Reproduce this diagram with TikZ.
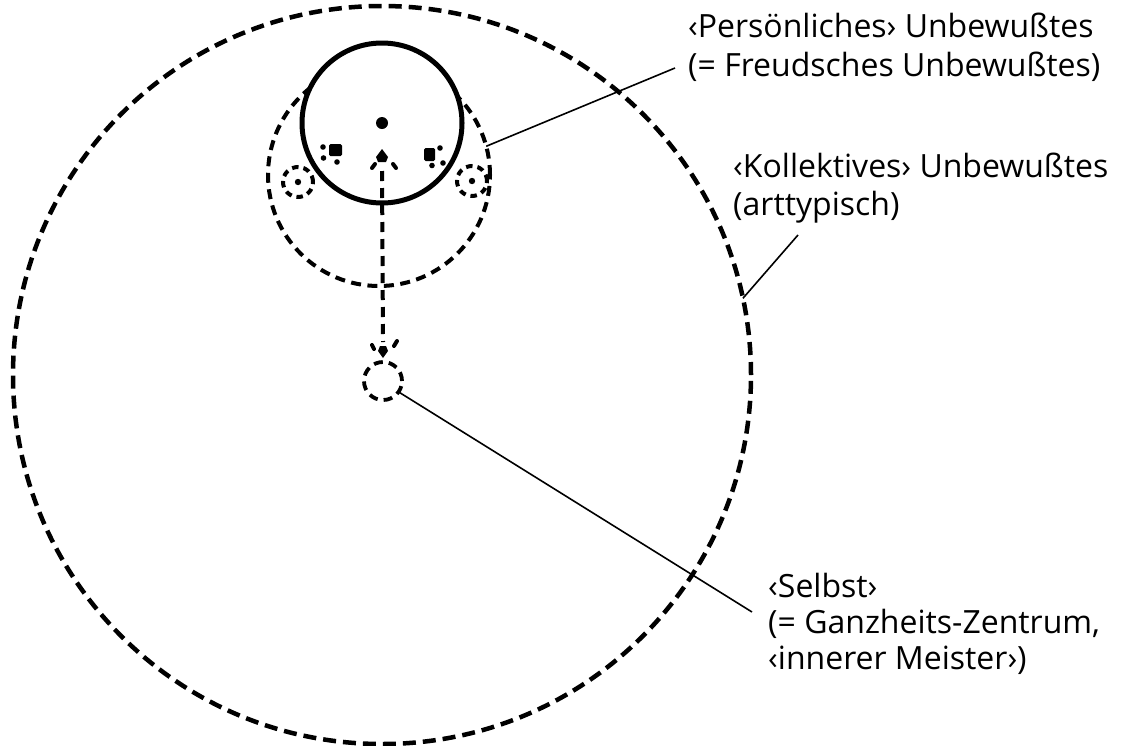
\documentclass[tikz,border=0pt]{standalone}
\usepackage{fontspec}
\setmainfont{Open Sans}
\begin{document}
\begin{tikzpicture}[x=1pt,y=-1pt,
  bigdash/.style={line width=4.5pt, dash pattern=on 13pt off 7pt},
  middash/.style={line width=4pt, dash pattern=on 10pt off 6.5pt},
  smalldash/.style={line width=4pt, dash pattern=on 6.5pt off 5pt},
  selbstdash/.style={line width=3.8pt, dash pattern=on 9pt off 6pt},
  shaftdash/.style={line width=4pt, dash pattern=on 10pt off 7pt},
  leader/.style={line width=1.6pt},
  barb/.style={line width=4pt, line cap=round},
  lbl/.style={anchor=base west, align=left, inner sep=0pt, font=\fontsize{32}{38}\selectfont},
  ring/.style={circle, inner sep=0pt, outer sep=0pt}]
\useasboundingbox (0,0) rectangle (1124,745);
% circles
\node[ring, draw, bigdash, minimum size=738pt] (gross) at (382,375) {};
\node[ring, draw, middash, minimum size=222pt] (koll) at (379,175) {};
\node[ring, draw, fill=white, line width=5pt, minimum size=160pt] (pers) at (382,123) {};
\node[ring, draw, selbstdash, minimum size=38pt] (selbst) at (383,381) {};
\node[ring, draw, smalldash, minimum size=30pt] (archL) at (298,182) {};
\node[ring, draw, smalldash, minimum size=30pt] (archR) at (472,181) {};
\fill (archL) circle (3.2pt);
\fill (archR) circle (3.2pt);
% centre dot of personal circle
\fill (pers) circle (6pt);
% dashed double arrow between self and personal centre
\coordinate (aTop) at (382,171);
\coordinate (aBot) at (383,342);
\draw[shaftdash] (aTop) -- (aBot);
\fill (382,149) -- (388,157) -- (386,162) -- (378,162) -- (376,157) -- cycle;
\draw[barb] (372,168) -- (375,164);
\draw[barb] (396,168) -- (393,164);
\fill (383,358) -- (388,351) -- (386,346) -- (380,346) -- (378,351) -- cycle;
\draw[barb] (372,345) -- (374,349);
\draw[barb] (397,341) -- (394,346);
% small arrowheads from the archetypes
\fill[rounded corners=1.5pt] (329,144) rectangle (342,156);
\fill (323,147) circle (2.8pt);
\fill (323.5,158) circle (2.8pt);
\fill (337,162) circle (2.8pt);
\fill[rounded corners=1.5pt] (424,148) rectangle (435,161);
\fill (440,148) circle (2.8pt);
\fill (432,165.5) circle (2.8pt);
\fill (443,163) circle (2.8pt);
% labels (anchor = baseline of the last line)
\node[lbl, font=\fontsize{32}{39}\selectfont] (tpers) at (688,76) {‹Persönliches› Unbewußtes\\(= Freudsches Unbewußtes)};
\node[lbl] (tkoll) at (733,215) {‹Kollektives› Unbewußtes\\(arttypisch)};
\node[lbl, font=\fontsize{32}{36}\selectfont] (tselbst) at (768,669) {‹Selbst›\\(= Ganzheits-Zentrum,\\‹innerer Meister›)};
% leaders
\coordinate (lpers) at (675,68);
\coordinate (lkoll) at (798,235);
\coordinate (lselbst) at (752,612);
\draw[leader] (koll.15) -- (lpers);
\draw[leader] (gross.12) -- (lkoll);
\draw[leader] (selbst.-35) -- (lselbst);
\end{tikzpicture}
\end{document}
